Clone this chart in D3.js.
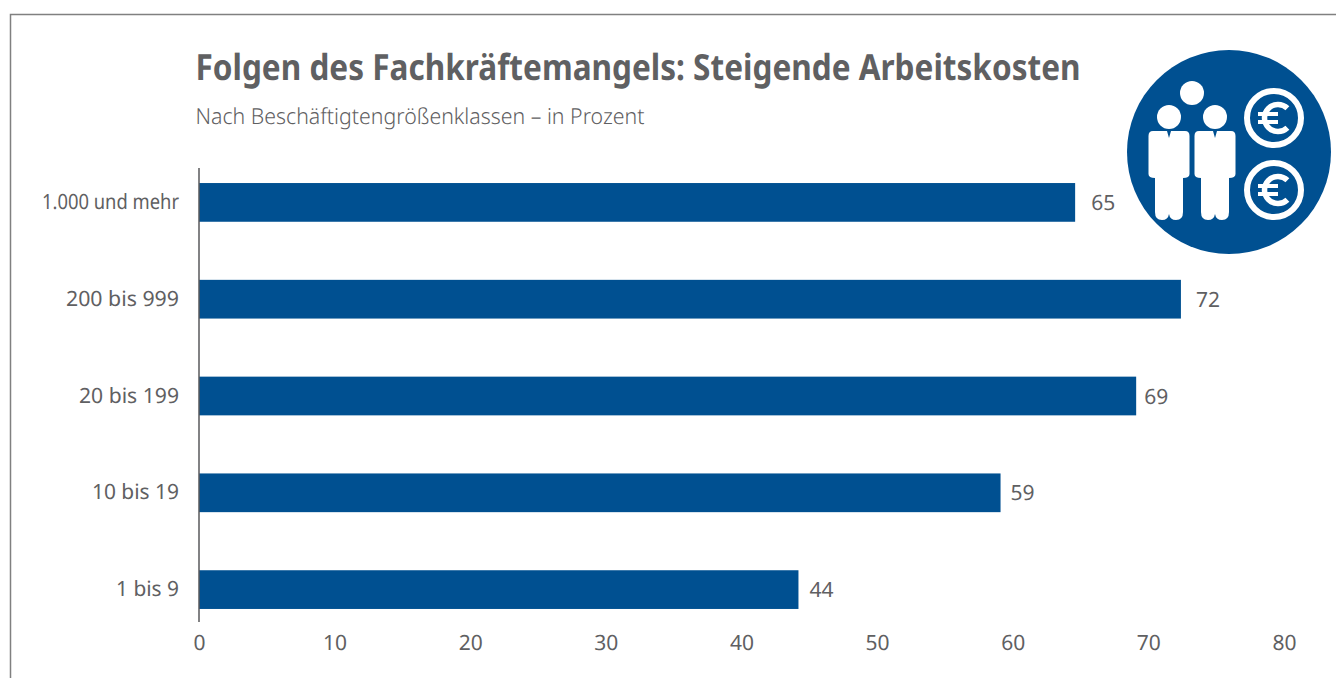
<!DOCTYPE html>
<html>
<head>
<meta charset="utf-8">
<script src="https://cdn.jsdelivr.net/npm/d3@7"></script>
<style>
  html, body { margin: 0; padding: 0; background: #fff; overflow: hidden; }
  text { font-family: "Noto Sans", sans-serif; fill: #5f6062; text-rendering: geometricPrecision; }
</style>
</head>
<body>
<svg id="chart" width="1336" height="678"></svg>
<script>
// values, the labels round them
const categories = ["1.000 und mehr", "200 bis 999", "20 bis 199", "10 bis 19", "1 bis 9"];
const values = [64.6, 72.4, 69.1, 59.1, 44.2];
const xTicks = [0, 10, 20, 30, 40, 50, 60, 70, 80];
const titleText = "Folgen des Fachkräftemangels: Steigende Arbeitskosten";
const subtitleText = "Nach Beschäftigtengrößenklassen – in Prozent";

const blue = "#005091";
const svg = d3.select("#chart");

// frame, open on the right and at the bottom
svg.append("path")
    .attr("d", "M10.5,678V14.5H1336")
    .attr("fill", "none")
    .attr("stroke", "#808080")
    .attr("stroke-width", 1.5);

// title and subtitle
svg.append("text")
    .attr("x", 195.5).attr("y", 80)
    .attr("font-size", 36).attr("font-weight", 700)
    .attr("textLength", 885).attr("lengthAdjust", "spacingAndGlyphs")
    .text(titleText);

svg.append("text")
    .attr("x", 195.5).attr("y", 124)
    .attr("font-size", 22).attr("font-weight", 300)
    .attr("textLength", 449).attr("lengthAdjust", "spacingAndGlyphs")
    .text(subtitleText);

// scales
const x = d3.scaleLinear().domain([0, 80]).range([199, 1284]);
const y = d3.scaleBand().domain(categories).range([154, 638]).paddingInner(0.6).paddingOuter(0.3);

// bars
svg.selectAll("rect.bar")
    .data(values)
    .enter().append("rect")
    .attr("class", "bar")
    .attr("x", x(0))
    .attr("y", (d, i) => y(categories[i]))
    .attr("width", d => x(d) - x(0))
    .attr("height", y.bandwidth())
    .attr("fill", blue);

// value labels, the gap in the original is not even
const labelGaps = [16, 15, 8, 10, 11];
svg.selectAll("text.value")
    .data(values)
    .enter().append("text")
    .attr("class", "value")
    .attr("x", (d, i) => x(d) + labelGaps[i])
    .attr("y", (d, i) => y(categories[i]) + y.bandwidth() / 2 + 7.5)
    .attr("font-size", 21)
    .text(d => d3.format(".0f")(d));

// category labels, the widths of the original
const catWidths = [137, 113, 100, 87, 63];
svg.selectAll("text.cat")
    .data(categories)
    .enter().append("text")
    .attr("class", "cat")
    .attr("x", (d, i) => 179 - catWidths[i])
    .attr("y", d => y(d) + y.bandwidth() / 2 + 6.5)
    .attr("font-size", 21)
    .attr("textLength", (d, i) => catWidths[i])
    .attr("lengthAdjust", "spacingAndGlyphs")
    .text(d => d);

// vertical axis line
svg.append("line")
    .attr("x1", x(0)).attr("x2", x(0))
    .attr("y1", 168).attr("y2", 622)
    .attr("stroke", "#58595b")
    .attr("stroke-width", 1.5);

// bottom tick labels, no axis line
const xAxis = svg.append("g")
    .attr("transform", "translate(0,650)")
    .call(d3.axisBottom(x).tickValues(xTicks).tickSize(0).tickPadding(0));
xAxis.select(".domain").remove();
xAxis.selectAll("text")
    .attr("font-size", 21)
    .attr("font-family", null)
    .attr("dy", 0);

// icon top right
const icon = svg.append("g");
icon.append("circle").attr("cx", 1229).attr("cy", 152).attr("r", 102).attr("fill", blue);
icon.append("circle").attr("cx", 1192).attr("cy", 93).attr("r", 12).attr("fill", "#fff");

[1169, 1215].forEach(cx => {
    icon.append("circle").attr("cx", cx).attr("cy", 117).attr("r", 12).attr("fill", "#fff");
    const body = d3.path();
    body.moveTo(cx - 16, 131);
    body.lineTo(cx - 2, 131);
    body.lineTo(cx, 138);
    body.lineTo(cx + 2, 131);
    body.lineTo(cx + 16, 131);
    body.quadraticCurveTo(cx + 20.5, 131, cx + 20.5, 136);
    body.lineTo(cx + 20.5, 174);
    body.quadraticCurveTo(cx + 20.5, 178, cx + 14, 178);
    body.lineTo(cx + 14, 212);
    body.quadraticCurveTo(cx + 14, 220, cx + 7, 220);
    body.quadraticCurveTo(cx + 1, 220, cx, 214);
    body.quadraticCurveTo(cx - 1, 220, cx - 7, 220);
    body.quadraticCurveTo(cx - 14, 220, cx - 14, 212);
    body.lineTo(cx - 14, 178);
    body.quadraticCurveTo(cx - 20.5, 178, cx - 20.5, 174);
    body.lineTo(cx - 20.5, 136);
    body.quadraticCurveTo(cx - 20.5, 131, cx - 16, 131);
    body.closePath();
    icon.append("path").attr("d", body.toString()).attr("fill", "#fff");
});

[118, 190].forEach(cy => {
    const cx = 1274;
    icon.append("circle")
        .attr("cx", cx).attr("cy", cy).attr("r", 27)
        .attr("fill", "none").attr("stroke", "#fff").attr("stroke-width", 6);
    // euro sign, arc open to the right
    const c = d3.path();
    c.arc(cx + 4, cy, 13.5, -0.8, 0.8, true);
    icon.append("path").attr("d", c.toString())
        .attr("fill", "none").attr("stroke", "#fff").attr("stroke-width", 5.5);
    [-4, 4].forEach(dy => {
        icon.append("rect")
            .attr("x", cx - 16).attr("y", cy + dy - 2)
            .attr("width", 20).attr("height", 4)
            .attr("fill", "#fff");
    });
});
</script>
</body>
</html>
